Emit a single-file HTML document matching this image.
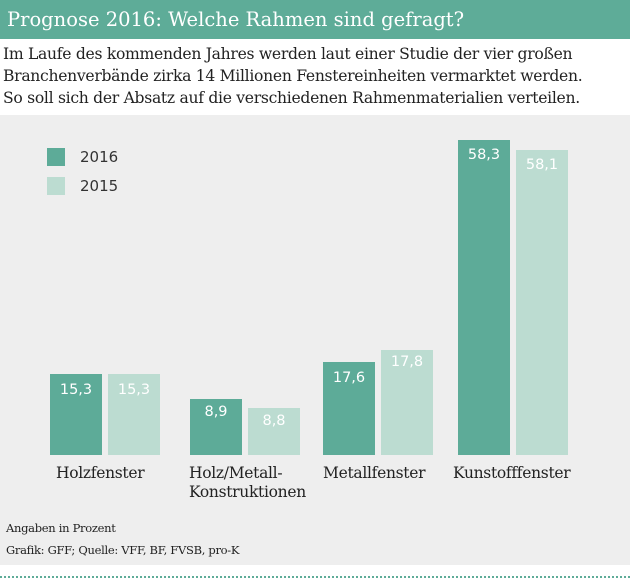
<!DOCTYPE html><html><head><style>
body{margin:0;width:630px;height:581px;background:#fff;position:relative;overflow:hidden;font-family:"DejaVu Serif","Liberation Serif",serif;}
.hd{position:absolute;left:0;top:0;width:630px;height:39px;background:#5eac98;color:#fff;font-size:19.5px;line-height:39px;padding-left:7px;box-sizing:border-box;}
.intro{position:absolute;left:3px;top:43px;font-size:15.6px;line-height:22px;color:#222;letter-spacing:-0.3px;}
.bg{position:absolute;left:0;top:115px;width:630px;height:450px;background:#eeeeee;}
.b{position:absolute;}
.d{background:#5dab98}.l{background:#bcdcd1}
.v{position:absolute;color:#fff;font-family:"DejaVu Sans","Liberation Sans",sans-serif;font-size:14.5px;width:52px;text-align:center;}
.c{position:absolute;font-size:15.5px;color:#222;line-height:19px;letter-spacing:-0.3px}
.f{position:absolute;left:6px;font-size:11.5px;color:#222;letter-spacing:-0.3px}
.dot{position:absolute;left:0;top:576px;width:630px;border-top:2px dotted #5eac98;}
.lg{position:absolute;font-family:"DejaVu Sans","Liberation Sans",sans-serif;font-size:15px;color:#333}
</style></head><body>
<div class="hd">Prognose 2016: Welche Rahmen sind gefragt?</div>
<div class="intro">Im Laufe des kommenden Jahres werden laut einer Studie der vier großen<br>Branchenverbände zirka 14 Millionen Fenstereinheiten vermarktet werden.<br>So soll sich der Absatz auf die verschiedenen Rahmenmaterialien verteilen.</div>
<div class="bg"></div>
<div class="b d" style="left:47px;top:148px;width:18px;height:18px"></div>
<div class="lg" style="left:80px;top:148px">2016</div>
<div class="b l" style="left:47px;top:177px;width:18px;height:18px"></div>
<div class="lg" style="left:80px;top:177px">2015</div>

<div class="b d" style="left:50px;top:374px;width:52px;height:81px"></div><div class="v" style="left:50px;top:382px">15,3</div>
<div class="b l" style="left:108px;top:374px;width:52px;height:81px"></div><div class="v" style="left:108px;top:382px">15,3</div>
<div class="b d" style="left:190px;top:399px;width:52px;height:56px"></div><div class="v" style="left:190px;top:404px">8,9</div>
<div class="b l" style="left:248px;top:408px;width:52px;height:47px"></div><div class="v" style="left:248px;top:413px">8,8</div>
<div class="b d" style="left:323px;top:362px;width:52px;height:93px"></div><div class="v" style="left:323px;top:370px">17,6</div>
<div class="b l" style="left:381px;top:350px;width:52px;height:105px"></div><div class="v" style="left:381px;top:354px">17,8</div>
<div class="b d" style="left:458px;top:140px;width:52px;height:315px"></div><div class="v" style="left:458px;top:147px">58,3</div>
<div class="b l" style="left:516px;top:150px;width:52px;height:305px"></div><div class="v" style="left:516px;top:157px">58,1</div>

<div class="c" style="left:56px;top:464px">Holzfenster</div>
<div class="c" style="left:189px;top:464px">Holz/Metall-<br>Konstruktionen</div>
<div class="c" style="left:323px;top:464px">Metallfenster</div>
<div class="c" style="left:453px;top:464px">Kunstofffenster</div>
<div class="f" style="top:521px">Angaben in Prozent</div>
<div class="f" style="top:543px">Grafik: GFF; Quelle: VFF, BF, FVSB, pro-K</div>
<div class="dot"></div>
</body></html>
